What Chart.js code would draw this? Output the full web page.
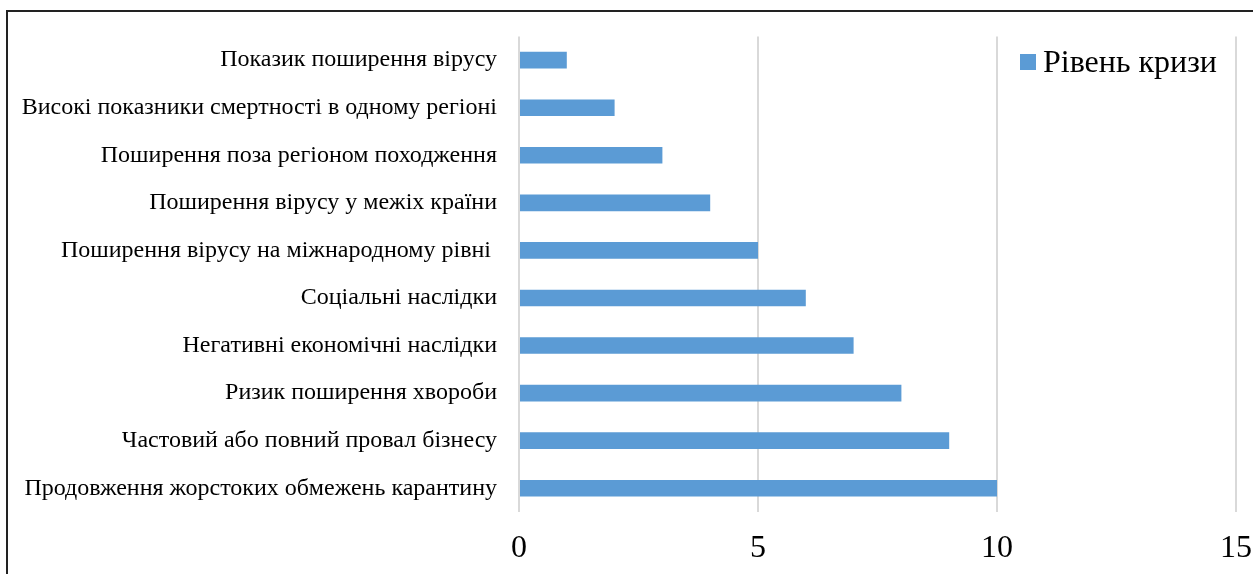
<!DOCTYPE html>
<html>
<head>
<meta charset="utf-8">
<script src="https://cdn.jsdelivr.net/npm/chart.js@4.4.1/dist/chart.umd.min.js"></script>
<style>
	html, body { margin: 0; padding: 0; background: #fff; overflow: hidden; }
	#wrap { position: relative; width: 1253px; height: 574px; }
	#frame {
		position: absolute; left: 6px; top: 10px; width: 1300px; height: 600px;
		border-top: 2px solid #222; border-left: 2px solid #222; pointer-events: none;
	}
	canvas { position: absolute; left: 0; top: 0; }
</style>
</head>
<body>
<div id="wrap">
	<canvas id="chart" width="1253" height="574"></canvas>
	<div id="frame"></div>
</div>
<script>
	const categories = [
		'Показик поширення вірусу',
		'Високі показники смертності в одному регіоні',
		'Поширення поза регіоном походження',
		'Поширення вірусу у межіх країни',
		'Поширення вірусу на міжнародному рівні ',
		'Соціальні наслідки',
		'Негативні економічні наслідки',
		'Ризик поширення хвороби',
		'Частовий або повний провал бізнесу',
		'Продовження жорстоких обмежень карантину'
	];
	const crisisLevel = [1, 2, 3, 4, 5, 6, 7, 8, 9, 10];
	const seriesName = 'Рівень кризи';
	const xTicks = [0, 5, 10, 15];

	const serif = '"Liberation Serif", "Times New Roman", serif';

	// legend drawn inside the plot, top right
	let innerLegend = {
		id: 'innerLegend',
		afterDraw(chart) {
			let ctx = chart.ctx;
			let ds = chart.data.datasets[0];
			ctx.save();
			ctx.fillStyle = ds.backgroundColor;
			ctx.fillRect(1020, 54, 16, 16);
			ctx.fillStyle = '#000';
			ctx.font = '32px ' + serif;
			ctx.textBaseline = 'middle';
			ctx.textAlign = 'left';
			ctx.fillText(ds.label, 1043, 64);
			ctx.restore();
		}
	};

	new Chart(document.getElementById('chart'), {
		type: 'bar',
		data: {
			labels: categories,
			datasets: [{
				label: seriesName,
				data: crisisLevel,
				backgroundColor: '#5b9bd5',
				borderWidth: 0,
				categoryPercentage: 0.5,
				barPercentage: 0.7
			}]
		},
		options: {
			indexAxis: 'y',
			responsive: false,
			animation: false,
			layout: { padding: { left: 0, top: 36, right: 17, bottom: 0 } },
			plugins: {
				legend: { display: false },
				tooltip: { enabled: false }
			},
			scales: {
				x: {
					min: 0,
					max: 15,
					afterBuildTicks: (scale) => { scale.ticks = xTicks.map(v => ({ value: v })); },
					afterFit: (scale) => {
						scale.height = 62;
						scale.paddingLeft = 0;
						scale.paddingRight = 0;
					},
					grid: { color: '#d9d9d9', lineWidth: 2, drawTicks: false },
					border: { display: false },
					ticks: {
						color: '#000',
						padding: 17,
						font: { family: serif, size: 32 }
					}
				},
				y: {
					afterFit: (scale) => { scale.width = 519; },
					grid: { display: false, drawTicks: false },
					border: { display: false },
					ticks: {
						color: '#000',
						padding: 22,
						font: { family: serif, size: 24 }
					}
				}
			}
		},
		plugins: [innerLegend]
	});
</script>
</body>
</html>
